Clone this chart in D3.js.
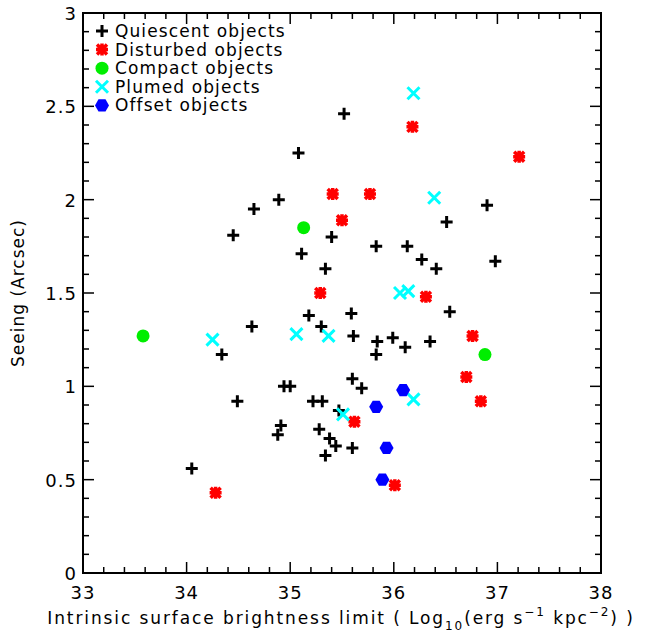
<!DOCTYPE html>
<html>
<head>
<meta charset="utf-8">
<script src="https://cdn.jsdelivr.net/npm/d3@7"></script>
<style>
  body { margin: 0; background: #fff; }
  text { font-family: "DejaVu Sans", sans-serif; fill: #000; }
</style>
</head>
<body>
<main></main>
<script>
// data: [surface brightness limit, seeing]
const quiescent = [
  [35.52,2.46],[35.08,2.25],[34.89,2.00],[34.65,1.95],[34.45,1.81],[35.11,1.71],
  [35.40,1.80],[35.34,1.63],[35.83,1.75],[36.13,1.75],[36.27,1.68],[36.41,1.63],
  [36.51,1.88],[36.90,1.97],[36.98,1.67],[36.54,1.40],[35.18,1.38],[35.59,1.39],
  [34.63,1.32],[35.30,1.32],[35.61,1.27],[35.84,1.24],[35.99,1.26],[36.11,1.21],
  [36.35,1.24],[35.83,1.17],[34.34,1.17],[34.94,1.00],[35.00,1.00],[35.60,1.04],
  [35.69,0.99],[34.49,0.92],[35.22,0.92],[35.31,0.92],[35.47,0.87],[34.91,0.79],
  [34.88,0.74],[35.28,0.77],[35.38,0.72],[35.44,0.68],[35.60,0.67],[35.34,0.63],
  [34.05,0.56]
];
const disturbed = [
  [37.21,2.23],[36.18,2.39],[35.41,2.03],[35.77,2.03],[35.50,1.89],[35.29,1.50],
  [36.31,1.48],[36.76,1.27],[36.70,1.05],[36.84,0.92],[35.62,0.81],[36.01,0.47],
  [34.28,0.43]
];
const compact = [[33.58,1.27],[35.13,1.85],[36.88,1.17]];
const plumed = [
  [36.19,2.57],[36.39,2.01],[36.06,1.50],[36.14,1.51],[35.06,1.28],[35.37,1.27],
  [34.25,1.25],[35.51,0.85],[36.19,0.93]
];
const offset = [[36.09,0.98],[35.83,0.89],[35.93,0.67],[35.89,0.50]];

const legendLabels = ['Quiescent objects','Disturbed objects','Compact objects','Plumed objects','Offset objects'];
const xTicks = [33,34,35,36,37,38];
const yTicks = [0,0.5,1,1.5,2,2.5,3];

const width = 645, height = 637;
const pLeft = 83, pRight = 601, pTop = 13, pBottom = 573;

const svg = d3.select('main').append('svg')
  .attr('width', width).attr('height', height);

const x = d3.scaleLinear().domain([33, 38]).range([pLeft, pRight]);
const y = d3.scaleLinear().domain([0, 3]).range([pBottom, pTop]);

// frame
svg.append('rect')
  .attr('x', pLeft).attr('y', pTop)
  .attr('width', pRight - pLeft).attr('height', pBottom - pTop)
  .attr('fill', 'none').attr('stroke', '#000').attr('stroke-width', 2);

// ticks, inward on all four sides
const tk = svg.append('g').attr('stroke', '#000').attr('stroke-width', 1.5);
d3.range(33, 38.001, 0.2).forEach(function (v) {
  const major = Math.abs(v - Math.round(v)) < 1e-6;
  const len = major ? 11 : 6;
  tk.append('line').attr('x1', x(v)).attr('x2', x(v)).attr('y1', pBottom).attr('y2', pBottom - len);
  tk.append('line').attr('x1', x(v)).attr('x2', x(v)).attr('y1', pTop).attr('y2', pTop + len);
});
d3.range(0, 3.001, 0.1).forEach(function (v) {
  const major = Math.abs(v * 2 - Math.round(v * 2)) < 1e-6;
  const len = major ? 11 : 6;
  tk.append('line').attr('y1', y(v)).attr('y2', y(v)).attr('x1', pLeft).attr('x2', pLeft + len);
  tk.append('line').attr('y1', y(v)).attr('y2', y(v)).attr('x1', pRight).attr('x2', pRight - len);
});

svg.selectAll('.xl').data(xTicks).enter().append('text')
  .attr('x', function (d) { return x(d); }).attr('y', pBottom + 26)
  .attr('text-anchor', 'middle').attr('font-size', 18).attr('letter-spacing', 1)
  .text(function (d) { return d; });

svg.selectAll('.yl').data(yTicks).enter().append('text')
  .attr('x', pLeft - 6).attr('y', function (d) { return y(d) + 7; })
  .attr('text-anchor', 'end').attr('font-size', 18).attr('letter-spacing', 1)
  .text(function (d) { return d; });

// axis titles
const xt = svg.append('text').attr('x', 341).attr('y', 624)
  .attr('text-anchor', 'middle').attr('font-size', 17).attr('letter-spacing', 1.9);
xt.append('tspan').text('Intrinsic surface brightness limit ( Log');
xt.append('tspan').attr('dy', 6).attr('font-size', 12).text('10');
xt.append('tspan').attr('dy', -6).text('(erg s');
xt.append('tspan').attr('dy', -8).attr('font-size', 12).text('−1');
xt.append('tspan').attr('dy', 8).text(' kpc');
xt.append('tspan').attr('dy', -8).attr('font-size', 12).text('−2');
xt.append('tspan').attr('dy', 8).text(') )');

svg.append('text')
  .attr('transform', 'translate(24,' + (pTop + pBottom) / 2 + ') rotate(-90)')
  .attr('text-anchor', 'middle').attr('font-size', 17).attr('letter-spacing', 1)
  .text('Seeing (Arcsec)');

// marker painters
function plus(g) {
  g.append('path').attr('d', 'M-6,0H6M0,-6V6')
    .attr('stroke', '#000').attr('stroke-width', 3).attr('fill', 'none');
}
function star(g) {
  g.append('path').attr('d', 'M-5,-5L5,5M-5,5L5,-5M-6,0H6M0,-6V6')
    .attr('stroke', '#ff0000').attr('stroke-width', 3.5).attr('fill', 'none');
}
function dot(g) {
  g.append('circle').attr('r', 6.5).attr('fill', '#00ee00');
}
function cross(g) {
  g.append('path').attr('d', 'M-6,-6L6,6M-6,6L6,-6')
    .attr('stroke', '#00ffff').attr('stroke-width', 3).attr('fill', 'none');
}
function hex(g) {
  const pts = d3.range(6).map(function (i) {
    const a = Math.PI / 3 * i;
    return [7 * Math.cos(a), 7 * Math.sin(a)];
  });
  g.append('path').attr('d', 'M' + pts.join('L') + 'Z').attr('fill', '#0000ff');
}

const sets = [[quiescent, plus], [disturbed, star], [compact, dot], [plumed, cross], [offset, hex]];

sets.forEach(function (s) {
  svg.append('g').selectAll('g').data(s[0]).enter().append('g')
    .attr('transform', function (d) { return 'translate(' + x(d[0]) + ',' + y(d[1]) + ')'; })
    .each(function () { s[1](d3.select(this)); });
});

// legend
legendLabels.forEach(function (lab, i) {
  const ly = 31 + i * 18.6;
  const g = svg.append('g').attr('transform', 'translate(102,' + ly + ')');
  sets[i][1](g);
  svg.append('text').attr('x', 115).attr('y', ly + 6)
    .attr('font-size', 17).attr('letter-spacing', 1.1).text(lab);
});
</script>
</body>
</html>
